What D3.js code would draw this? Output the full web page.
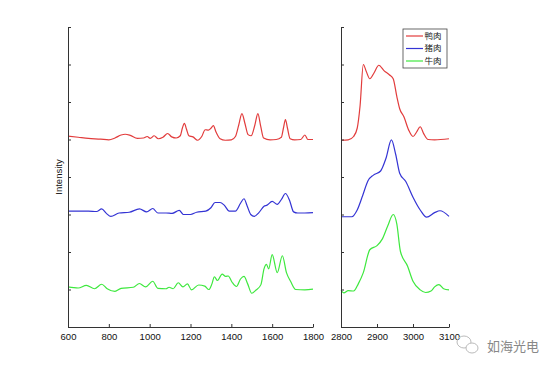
<!DOCTYPE html>
<html>
<head>
<meta charset="utf-8">
<script src="https://cdn.jsdelivr.net/npm/d3@7"></script>
<style>
  html, body { margin: 0; padding: 0; background: #fff; }
  svg { display: block; font-family: "Liberation Sans", Arial, sans-serif; }
</style>
</head>
<body>
<svg id="chart" width="554" height="369"></svg>
<script>
// Spectra: [wavenumber, offset intensity]
const leftTicks = [600, 800, 1000, 1200, 1400, 1600, 1800];
const rightTicks = [2800, 2900, 3000, 3100];
const yTicks = [0, 1, 2, 3, 4, 5, 6, 7, 8];
const seriesNames = ["鸭肉", "猪肉", "牛肉"];
const seriesColors = ["#e23c3c", "#3434d4", "#3ee83e"];

const duckLow = [[600,5.09],[650,5.06],[700,5.03],[760,5.01],[800,4.99],[830,5.04],[860,5.12],[880,5.14],[905,5.11],[940,5.03],[970,5.04],[988,5.08],[1003,5.03],[1022,5.1],[1042,5.02],[1065,5.06],[1088,5.16],[1108,5.07],[1130,5.04],[1150,5.1],[1160,5.3],[1170,5.43],[1180,5.28],[1192,5.1],[1212,5.07],[1235,4.98],[1255,5.08],[1272,5.26],[1288,5.25],[1300,5.3],[1312,5.37],[1325,5.2],[1345,5.02],[1370,4.98],[1400,4.99],[1420,5.08],[1436,5.38],[1452,5.69],[1467,5.42],[1482,5.13],[1497,5.1],[1515,5.38],[1530,5.69],[1544,5.35],[1558,5.04],[1590,4.99],[1620,5.0],[1645,5.06],[1655,5.3],[1665,5.53],[1675,5.3],[1688,5.02],[1710,4.99],[1740,5.0],[1760,5.12],[1775,5.0],[1800,5.0]];
const porkLow = [[600,3.09],[650,3.09],[700,3.09],[740,3.08],[765,3.15],[788,3.03],[810,2.95],[850,3.04],[900,3.06],[950,3.15],[985,3.07],[1015,3.16],[1040,3.04],[1080,3.04],[1110,3.03],[1145,3.11],[1165,3.0],[1200,3.0],[1230,3.06],[1275,3.09],[1300,3.18],[1320,3.32],[1345,3.32],[1365,3.25],[1390,3.09],[1420,3.09],[1445,3.3],[1462,3.42],[1478,3.22],[1495,3.0],[1512,2.95],[1535,3.05],[1560,3.22],[1575,3.25],[1600,3.35],[1625,3.27],[1645,3.4],[1665,3.56],[1685,3.38],[1705,3.07],[1725,3.04],[1760,3.04],[1800,3.05]];
const beefLow = [[600,1.07],[650,1.04],[690,1.11],[730,1.02],[765,1.14],[792,1.02],[830,0.95],[860,1.03],[920,1.06],[950,1.16],[980,1.07],[1015,1.22],[1040,1.03],[1080,1.02],[1095,1.06],[1115,1.02],[1140,1.18],[1163,1.07],[1185,1.15],[1205,0.99],[1240,1.12],[1270,1.09],[1290,1.0],[1305,1.15],[1317,1.34],[1332,1.24],[1355,1.41],[1372,1.35],[1385,1.36],[1403,1.2],[1425,1.08],[1445,1.28],[1462,1.35],[1480,1.15],[1500,0.9],[1520,0.98],[1545,1.13],[1560,1.55],[1572,1.67],[1583,1.55],[1600,1.93],[1625,1.45],[1650,1.9],[1670,1.45],[1690,1.22],[1715,1.0],[1760,0.99],[1800,1.01]];

const duckHigh = [[2800,4.98],[2820,4.99],[2835,5.08],[2845,5.3],[2853,5.9],[2862,7.0],[2870,6.82],[2880,6.62],[2892,6.78],[2905,6.98],[2920,6.83],[2935,6.72],[2945,6.62],[2955,6.15],[2963,5.82],[2975,5.6],[2988,5.25],[3000,5.08],[3010,5.2],[3020,5.34],[3030,5.15],[3042,5.0],[3060,4.99],[3100,5.02]];
const porkHigh = [[2800,2.94],[2830,2.94],[2845,3.12],[2860,3.5],[2875,3.9],[2890,4.05],[2910,4.16],[2925,4.5],[2940,4.99],[2952,4.6],[2963,4.1],[2980,3.88],[3000,3.46],[3020,3.12],[3038,2.93],[3060,3.05],[3075,3.1],[3100,2.95]];
const beefHigh = [[2800,0.98],[2808,0.91],[2820,0.97],[2835,0.96],[2848,1.15],[2862,1.45],[2880,2.06],[2900,2.17],[2915,2.35],[2930,2.7],[2945,3.0],[2955,2.75],[2965,2.02],[2985,1.62],[3000,1.22],[3020,0.99],[3035,0.92],[3050,0.96],[3060,1.07],[3072,1.13],[3085,1.02],[3100,0.99]];

const lowSeries = [duckLow, porkLow, beefLow];
const highSeries = [duckHigh, porkHigh, beefHigh];

const svg = d3.select("#chart");
const axisColor = "#333";

const plotTop = 27, plotBottom = 327;
const y = d3.scaleLinear().domain([0, 8]).range([plotBottom, plotTop]);

const panels = [
    {x: d3.scaleLinear().domain([600, 1800]).range([68, 313]), ticks: leftTicks, data: lowSeries},
    {x: d3.scaleLinear().domain([2800, 3100]).range([341, 449]), ticks: rightTicks, data: highSeries}
];

panels.forEach(p => {
    const g = svg.append("g");

    // lines
    const line = d3.line()
        .x(d => p.x(d[0]))
        .y(d => y(d[1]))
        .curve(d3.curveMonotoneX);
    g.selectAll("path.spec").data(p.data).join("path")
        .attr("class", "spec")
        .attr("d", line)
        .attr("fill", "none")
        .attr("stroke", (d, i) => seriesColors[i])
        .attr("stroke-width", 1.2);

    // x axis, ticks inward
    const xAxis = d3.axisBottom(p.x).tickValues(p.ticks).tickFormat(d3.format("d"))
        .tickSizeInner(-3).tickSizeOuter(0).tickPadding(6);
    const gx = g.append("g").attr("transform", `translate(0,${plotBottom})`).call(xAxis);
    gx.select(".domain").attr("stroke", axisColor);
    gx.selectAll(".tick line").attr("stroke", axisColor);
    gx.selectAll("text").attr("fill", "#111").style("font-size", "9.5px")
        .style("font-family", "'Liberation Sans', Arial, sans-serif");

    // y axis, no labels
    const yAxis = d3.axisLeft(y).tickValues(yTicks).tickSizeInner(-3).tickSizeOuter(0).tickFormat("");
    const gy = g.append("g").attr("transform", `translate(${p.x.range()[0]},0)`).call(yAxis);
    gy.select(".domain").attr("stroke", axisColor);
    gy.selectAll(".tick line").attr("stroke", axisColor);
});

// y label
svg.append("text")
    .attr("transform", "translate(62,177) rotate(-90)")
    .attr("text-anchor", "middle")
    .style("font-size", "9.5px")
    .attr("fill", "#111")
    .text("Intensity");

// legend
const legend = svg.append("g").attr("transform", "translate(403,29)");
legend.append("rect")
    .attr("width", 44).attr("height", 39)
    .attr("fill", "#fff").attr("stroke", "#444").attr("stroke-width", 0.8);
seriesNames.forEach((name, i) => {
    const yy = 7 + i * 12.5;
    legend.append("line")
        .attr("x1", 3).attr("x2", 20).attr("y1", yy).attr("y2", yy)
        .attr("stroke", seriesColors[i]).attr("stroke-width", 1.2);
    legend.append("text")
        .attr("x", 21.5).attr("y", yy)
        .attr("dy", "0.35em")
        .style("font-family", "'Noto Sans CJK SC', sans-serif")
        .style("font-size", "8.5px")
        .attr("fill", "#222")
        .text(name);
});

// watermark
const wm = svg.append("g").attr("fill", "none").attr("stroke", "#bbb").attr("stroke-width", 1);
wm.append("ellipse").attr("cx", 464).attr("cy", 342).attr("rx", 7).attr("ry", 6);
wm.append("ellipse").attr("cx", 472).attr("cy", 348).attr("rx", 6).attr("ry", 5).attr("fill", "#fff");
svg.append("text")
    .attr("x", 487).attr("y", 351)
    .style("font-family", "'Noto Sans CJK SC', sans-serif")
    .style("font-size", "13px")
    .attr("fill", "#888")
    .text("如海光电");
</script>
</body>
</html>
